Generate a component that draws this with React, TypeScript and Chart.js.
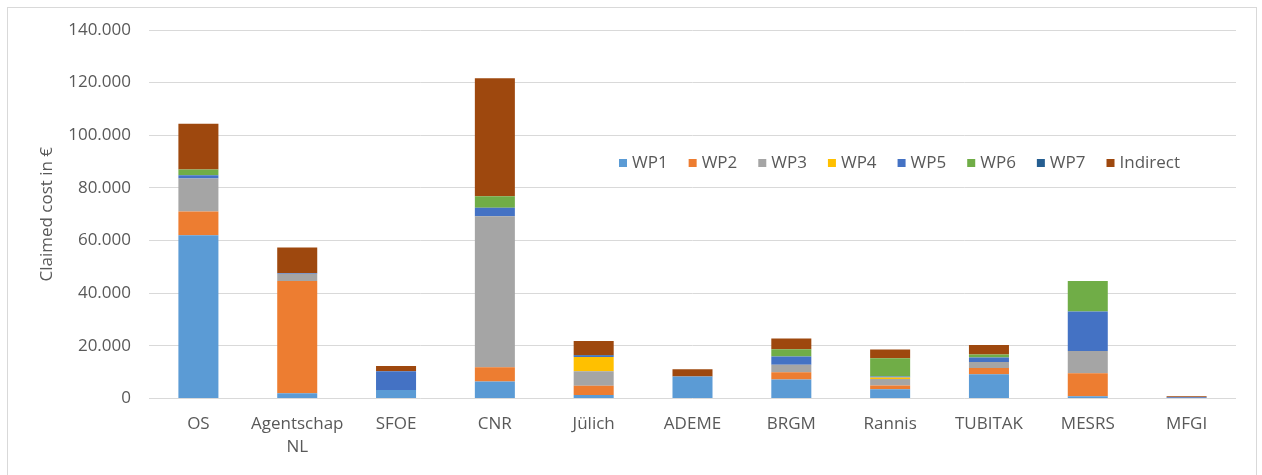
import React, { useEffect, useRef } from "react";
import { Chart, registerables } from "chart.js";

Chart.register(...registerables);

const categories: (string | string[])[] = [
  "OS", ["Agentschap", "NL"], "SFOE", "CNR", "Jülich", "ADEME", "BRGM", "Rannis", "TUBITAK", "MESRS", "MFGI",
];
const seriesNames = ["WP1", "WP2", "WP3", "WP4", "WP5", "WP6", "WP7", "Indirect"];
const seriesColors = ["#5B9BD5", "#ED7D31", "#A5A5A5", "#FFC000", "#4472C4", "#70AD47", "#255E91", "#9E480E"];

const wp1 = [62000, 2000, 3200, 6500, 1300, 8400, 7200, 3500, 9200, 900, 200];
const wp2 = [9000, 42600, 0, 5400, 3500, 0, 2800, 1400, 2400, 8700, 0];
const wp3 = [12600, 2800, 0, 57300, 5600, 0, 2800, 2500, 2300, 8400, 0];
const wp4 = [0, 0, 0, 0, 5400, 0, 0, 600, 0, 0, 0];
const wp5 = [1200, 300, 7200, 3300, 400, 0, 3200, 400, 1700, 15100, 300];
const wp6 = [2200, 0, 0, 4300, 0, 0, 2700, 6900, 1100, 11500, 0];
const wp7 = [0, 0, 0, 0, 300, 0, 0, 0, 0, 0, 0];
const indirect = [17400, 9700, 1900, 44900, 5300, 2700, 4100, 3300, 3600, 0, 400];

const yMin = 0;
const yMax = 140000;
const yStep = 20000;
const yTitle = "Claimed cost in €";

const FONT = "'Open Sans', 'Liberation Sans', sans-serif";
const TEXT = "#595959";
const GRID = "#D9D9D9";

const fmt = (v: number) => String(v).replace(/\B(?=(\d{3})+(?!\d))/g, ".");

const frameAndLegend = {
  id: "frameAndLegend",
  beforeDraw(chart: any) {
    const ctx = chart.ctx;
    ctx.save();
    ctx.fillStyle = "#FFFFFF";
    ctx.fillRect(0, 0, chart.width, chart.height);
    ctx.strokeStyle = GRID;
    ctx.lineWidth = 1;
    ctx.strokeRect(7.5, 7.5, 1249, 470);
    ctx.restore();
  },
  afterDraw(chart: any) {
    const ctx = chart.ctx;
    ctx.save();
    ctx.font = `17px ${FONT}`;
    ctx.textBaseline = "middle";
    ctx.textAlign = "left";
    let x = 619;
    const y = 163;
    chart.data.datasets.forEach((ds: any) => {
      ctx.fillStyle = ds.backgroundColor;
      ctx.fillRect(x, y - 4, 8, 8);
      ctx.fillStyle = TEXT;
      ctx.fillText(ds.label, x + 13, y);
      x += 13 + ctx.measureText(ds.label).width + 21;
    });
    ctx.restore();
  },
};

export default function App() {
  const ref = useRef<HTMLCanvasElement>(null);
  useEffect(() => {
    if (!ref.current) return;
    const values = [wp1, wp2, wp3, wp4, wp5, wp6, wp7, indirect];
    const chart = new Chart(ref.current, {
      type: "bar",
      data: {
        labels: categories,
        datasets: seriesNames.map((name, i) => ({
          label: name,
          data: values[i],
          backgroundColor: seriesColors[i],
          borderWidth: 0,
          categoryPercentage: 1,
          barPercentage: 0.405,
        })),
      },
      options: {
        animation: false,
        responsive: false,
        maintainAspectRatio: false,
        layout: { padding: { left: 37, right: 26, top: 30, bottom: 0 } },
        plugins: {
          legend: { display: false },
          tooltip: { enabled: false },
        },
        scales: {
          x: {
            stacked: true,
            grid: { display: false, drawTicks: false },
            border: { display: false },
            ticks: {
              color: TEXT,
              font: { family: FONT, size: 17, lineHeight: 1.35 },
              padding: 14,
              maxRotation: 0,
              autoSkip: false,
            },
            afterFit: (s: any) => {
              s.height = 76.5;
            },
          },
          y: {
            stacked: true,
            min: yMin,
            max: yMax,
            ticks: {
              stepSize: yStep,
              color: TEXT,
              font: { family: FONT, size: 17 },
              padding: 18,
              callback: (v: any) => fmt(Number(v)),
            },
            grid: { color: GRID, lineWidth: 1, drawTicks: false },
            border: { display: false },
            title: {
              display: true,
              text: yTitle,
              color: TEXT,
              font: { family: FONT, size: 17 },
              padding: 0,
            },
            afterFit: (s: any) => {
              s.width = 112;
            },
          },
        },
      },
      plugins: [frameAndLegend],
    });
    return () => chart.destroy();
  }, []);
  return (
    <div style={{ position: "absolute", left: 0, top: 0, width: 1262, height: 475 }}>
      <canvas ref={ref} width={1262} height={475} style={{ width: 1262, height: 475, display: "block" }} />
    </div>
  );
}
